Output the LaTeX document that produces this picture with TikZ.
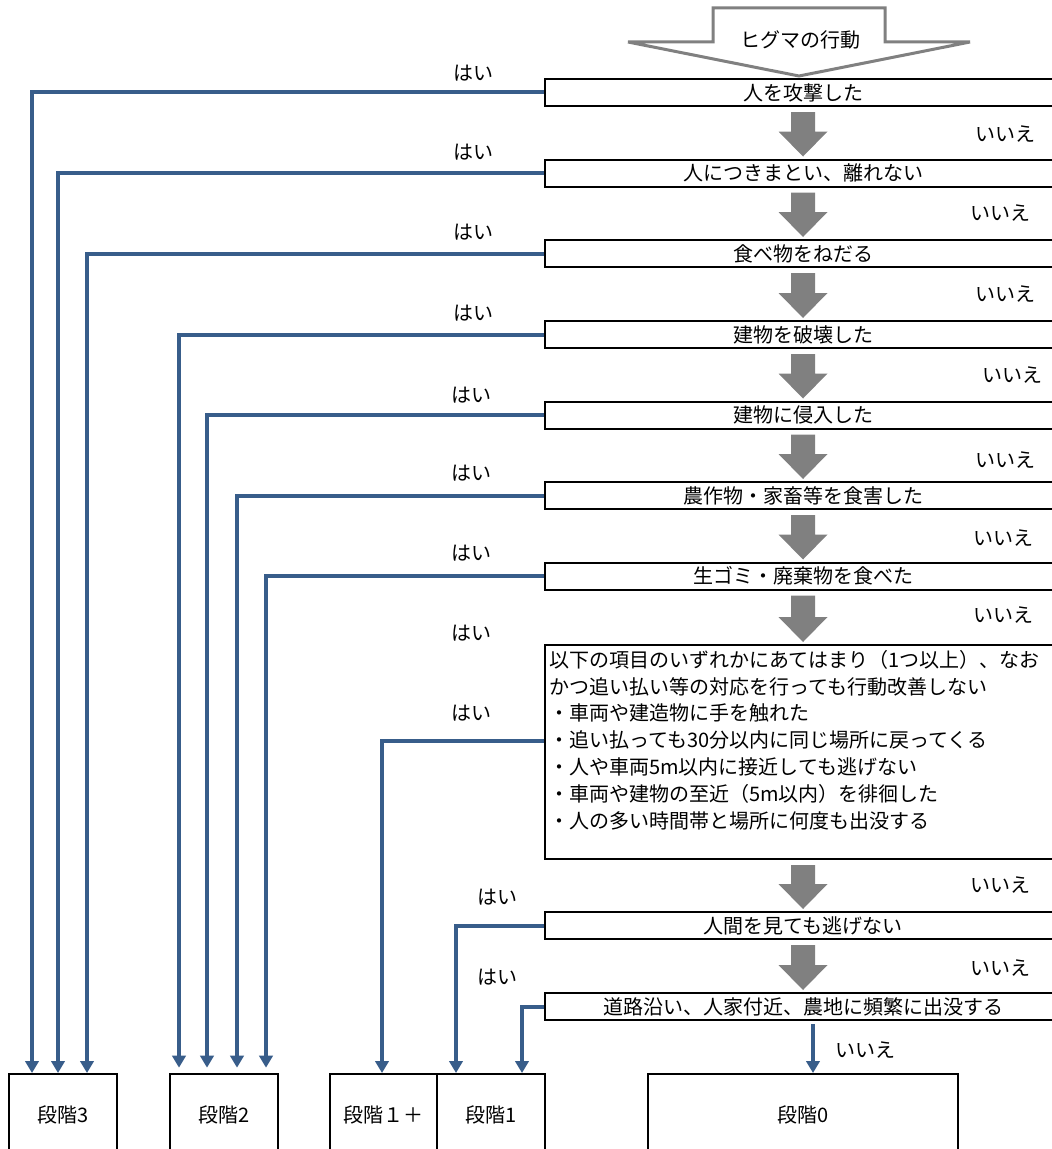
\documentclass[tikz,border=0pt]{standalone}
\usepackage{fontspec}
\setmainfont{Noto Sans CJK JP}
\usetikzlibrary{calc,arrows.meta}
\definecolor{conncol}{RGB}{56,93,138}
\definecolor{arrgray}{RGB}{128,128,128}
\tikzset{
  txt/.style={font=\fontsize{15pt}{20.1pt}\selectfont, inner sep=0pt},
  qbox/.style={txt, draw=black, line width=1.5pt, minimum width=387pt, minimum height=20.25pt, anchor=west},
  lvbox/.style={txt, draw=black, line width=1.5pt, minimum height=61.5pt, anchor=north west},
  conn/.style={draw=conncol, line width=3pt, -{Triangle[width=10pt,length=9pt]}},
}
\newcommand{\grayarrow}[2]{%
  \fill[arrgray] ($(#1.south)+(-12,5)$) -- ($(#1.south)+(12,5)$) -- ($(#2.north)+(12,-27)$) -- ($(#2.north)+(24.5,-27)$) -- ($(#2.north)+(0,-2)$) -- ($(#2.north)+(-24.5,-27)$) -- ($(#2.north)+(-12,-27)$) -- cycle;}
\begin{document}
\begin{tikzpicture}[x=0.75pt,y=-0.75pt]
\useasboundingbox (0,0) rectangle (1052,1149);
\clip (0,0) rectangle (1052,1149);
\fill[white] (0,0) rectangle (1052,1149);

% top outline arrow
\draw[arrgray, line width=2.25pt, fill=white, line join=miter] (713,8) -- (885,8) -- (885,42) -- (970,42) -- (799,76) -- (628,42) -- (713,42) -- cycle;
\node[txt] (top) at (800,40) {ヒグマの行動};

% question boxes
\node[qbox] (b1) at (544,92.5) {人を攻撃した};
\node[qbox] (b2) at (544,173) {人につきまとい、離れない};
\node[qbox] (b3) at (544,253.5) {食べ物をねだる};
\node[qbox] (b4) at (544,334.5) {建物を破壊した};
\node[qbox] (b5) at (544,415) {建物に侵入した};
\node[qbox] (b6) at (544,495.5) {農作物・家畜等を食害した};
\node[qbox] (b7) at (544,576) {生ゴミ・廃棄物を食べた};
\node[draw=black, line width=1.5pt, minimum width=387pt, minimum height=160.5pt, anchor=north west, inner sep=0pt] (big) at (544,644) {};
\node[txt, align=left, anchor=north west] (bigtxt) at ($(big.north west)+(5,6)$) {以下の項目のいずれかにあてはまり（1つ以上）、なお\\かつ追い払い等の対応を行っても行動改善しない\\・車両や建造物に手を触れた\\・追い払っても30分以内に同じ場所に戻ってくる\\・人や車両5m以内に接近しても逃げない\\・車両や建物の至近（5m以内）を徘徊した\\・人の多い時間帯と場所に何度も出没する};
\node[qbox] (b9) at (544,925.5) {人間を見ても逃げない};
\node[qbox] (b10) at (544,1006.5) {道路沿い、人家付近、農地に頻繁に出没する};

% level boxes
\node[lvbox, minimum width=81pt] (s3) at (8,1073) {段階3};
\node[lvbox, minimum width=81pt] (s2) at (169,1073) {段階2};
\node[lvbox, minimum width=80.25pt] (s1p) at (329,1073) {段階１＋};
\node[lvbox, minimum width=81pt] (s1) at (436,1073) {段階1};
\node[lvbox, minimum width=232.5pt] (s0) at (647,1073) {段階0};

% gray arrows (いいえ)
\grayarrow{b1}{b2}
\grayarrow{b2}{b3}
\grayarrow{b3}{b4}
\grayarrow{b4}{b5}
\grayarrow{b5}{b6}
\grayarrow{b6}{b7}
\grayarrow{b7}{big}
\grayarrow{big}{b9}
\grayarrow{b9}{b10}

% blue connectors (はい)
\draw[conn] (b1.west) -| ($(s3.north)+(-31,0)$);
\draw[conn] (b2.west) -| ($(s3.north)+(-5,0)$);
\draw[conn] (b3.west) -| ($(s3.north)+(24,0)$);
\draw[conn, shorten >=4pt] (b4.west) -| ($(s2.north)+(-45,0)$);
\draw[conn, shorten >=4pt] (b5.west) -| ($(s2.north)+(-17,0)$);
\draw[conn, shorten >=4pt] (b6.west) -| ($(s2.north)+(13,0)$);
\draw[conn, shorten >=4pt] (b7.west) -| ($(s2.north)+(42,0)$);
\draw[conn] ($(big.west)+(0,-11)$) -| ($(s1p.north)+(-1.5,0)$);
\draw[conn] (b9.west) -| ($(s1.north)+(-35,0)$);
\draw[conn] (b10.west) -| ($(s1.north)+(31,0)$);
\draw[conn] ($(b10.south)+(10,3)$) -- ($(s0.north)+(10,0)$);

% labels
\node[txt] (y1) at (473,73) {はい};
\node[txt] (y2) at (473,152) {はい};
\node[txt] (y3) at (473,232) {はい};
\node[txt] (y4) at (473,313) {はい};
\node[txt] (y5) at (471,395) {はい};
\node[txt] (y6) at (471,473) {はい};
\node[txt] (y7) at (471,553) {はい};
\node[txt] (y8) at (471,633) {はい};
\node[txt] (y9) at (471,713) {はい};
\node[txt] (y10) at (497,897) {はい};
\node[txt] (y11) at (497,977) {はい};

\node[txt] (n1) at (1005,134) {いいえ};
\node[txt] (n2) at (1000,213) {いいえ};
\node[txt] (n3) at (1005,294) {いいえ};
\node[txt] (n4) at (1012,375) {いいえ};
\node[txt] (n5) at (1005,460) {いいえ};
\node[txt] (n6) at (1003,538) {いいえ};
\node[txt] (n7) at (1003,615) {いいえ};
\node[txt] (n8) at (1000,885) {いいえ};
\node[txt] (n9) at (1000,968) {いいえ};
\node[txt] (n10) at (865,1050) {いいえ};
\end{tikzpicture}
\end{document}
